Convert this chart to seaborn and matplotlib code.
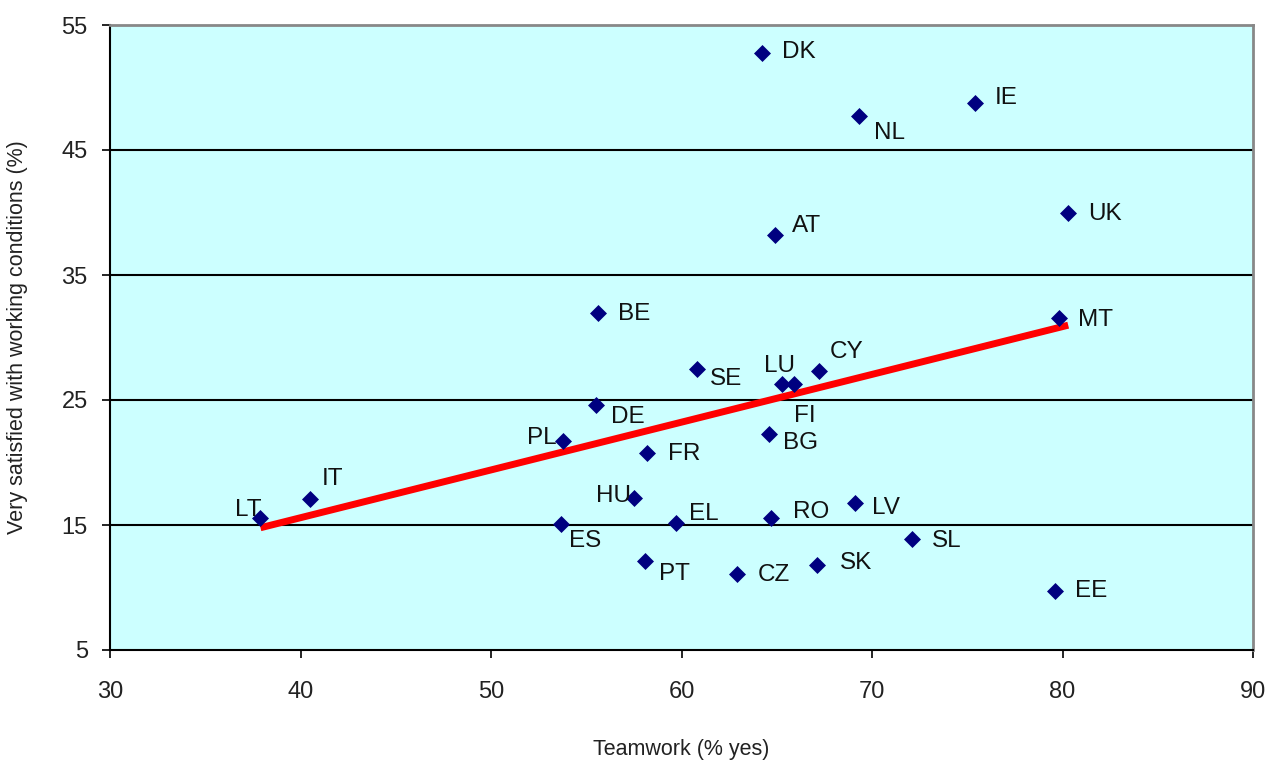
import pandas as pd
import matplotlib
matplotlib.use('Agg')
import matplotlib.pyplot as plt
import seaborn as sns

# Country data
countries = ['DK', 'IE', 'NL', 'UK', 'AT', 'BE', 'MT', 'SE', 'CY', 'LU', 'FI',
             'DE', 'BG', 'PL', 'FR', 'IT', 'HU', 'LV', 'LT', 'ES', 'EL', 'RO',
             'SL', 'PT', 'CZ', 'SK', 'EE']
teamwork = [64.2, 75.4, 69.3, 80.3, 64.9, 55.6, 79.8, 60.8, 67.2, 65.3, 65.9,
            55.5, 64.6, 53.8, 58.2, 40.5, 57.5, 69.1, 37.9, 53.7, 59.7, 64.7,
            72.1, 58.1, 62.9, 67.1, 79.6]
satisfied = [52.8, 48.8, 47.7, 40.0, 38.2, 32.0, 31.6, 27.5, 27.3, 26.3, 26.3,
             24.6, 22.3, 21.7, 20.8, 17.1, 17.2, 16.8, 15.6, 15.1, 15.2, 15.6,
             13.9, 12.1, 11.1, 11.8, 9.7]

df = pd.DataFrame({'country': countries, 'teamwork': teamwork, 'satisfied': satisfied})

# label placement (pixel offsets, alignment)
label_pos = {
    'DK': (20, 0, 'left'), 'IE': (20, 4, 'left'), 'NL': (15, -17, 'left'),
    'UK': (20, -1, 'left'), 'AT': (17, 9, 'left'), 'BE': (20, -1, 'left'),
    'MT': (19, -2, 'left'), 'SE': (13, -10, 'left'), 'CY': (11, 19, 'left'),
    'LU': (-18, 18, 'left'), 'FI': (0, -32, 'left'), 'DE': (15, -12, 'left'),
    'BG': (14, -9, 'left'), 'PL': (-7, 3, 'right'), 'FR': (21, -1, 'left'),
    'IT': (12, 20, 'left'), 'HU': (-3, 1, 'right'), 'LV': (17, -6, 'left'),
    'LT': (1, 7, 'right'), 'ES': (8, -17, 'left'), 'EL': (13, 9, 'left'),
    'RO': (22, 5, 'left'), 'SL': (20, -2, 'left'), 'PT': (14, -13, 'left'),
    'CZ': (21, -1, 'left'), 'SK': (23, 2, 'left'), 'EE': (20, 0, 'left'),
}

sns.set_style('white')
plt.rcParams['font.family'] = ['Liberation Sans', 'DejaVu Sans']

fig = plt.figure(figsize=(12.75, 7.61), dpi=100)
ax = fig.add_axes([110 / 1275, 1 - 650 / 761, 1143 / 1275, 625 / 761])
ax.set_facecolor('#CCFFFF')

# horizontal gridlines
for yv in [15, 25, 35, 45]:
    ax.axhline(yv, color='black', lw=1.5, zorder=1)

# linear trend line
sns.regplot(data=df, x='teamwork', y='satisfied', scatter=False, ci=None,
            truncate=True, color='red', line_kws={'lw': 5, 'zorder': 2,
                                                  'solid_capstyle': 'butt'}, ax=ax)

sns.scatterplot(data=df, x='teamwork', y='satisfied', marker='D', s=75,
                color='#000080', edgecolor='#000080', linewidth=0, zorder=3, ax=ax)

for _, row in df.iterrows():
    dx, dy, ha = label_pos[row['country']]
    ax.annotate(row['country'], (row['teamwork'], row['satisfied']),
                xytext=(dx, dy), textcoords='offset pixels', ha=ha, va='center',
                fontsize=17.5, color='#111111', zorder=4)

ax.set_xlim(30, 90)
ax.set_ylim(5, 55)
ax.set_xticks(range(30, 91, 10))
ax.set_yticks(range(5, 56, 10))
ax.tick_params(axis='both', direction='out', length=6, width=1.2, labelsize=17,
               colors='black', labelcolor='#222222', pad=10)
ax.tick_params(axis='x', pad=16)
ax.xaxis.set_ticks_position('bottom')
ax.yaxis.set_ticks_position('left')

for side in ['left', 'bottom']:
    ax.spines[side].set_color('black')
    ax.spines[side].set_linewidth(1.5)
for side in ['top', 'right']:
    ax.spines[side].set_color('#888888')
    ax.spines[side].set_linewidth(2)

ax.set_xlabel('Teamwork (% yes)', fontsize=15.5, color='#222222', labelpad=26)
ax.set_ylabel('Very satisfied with working conditions (%)', fontsize=15.5,
              color='#222222', labelpad=24)

plt.savefig('out.png', dpi=100)
plt.close()
